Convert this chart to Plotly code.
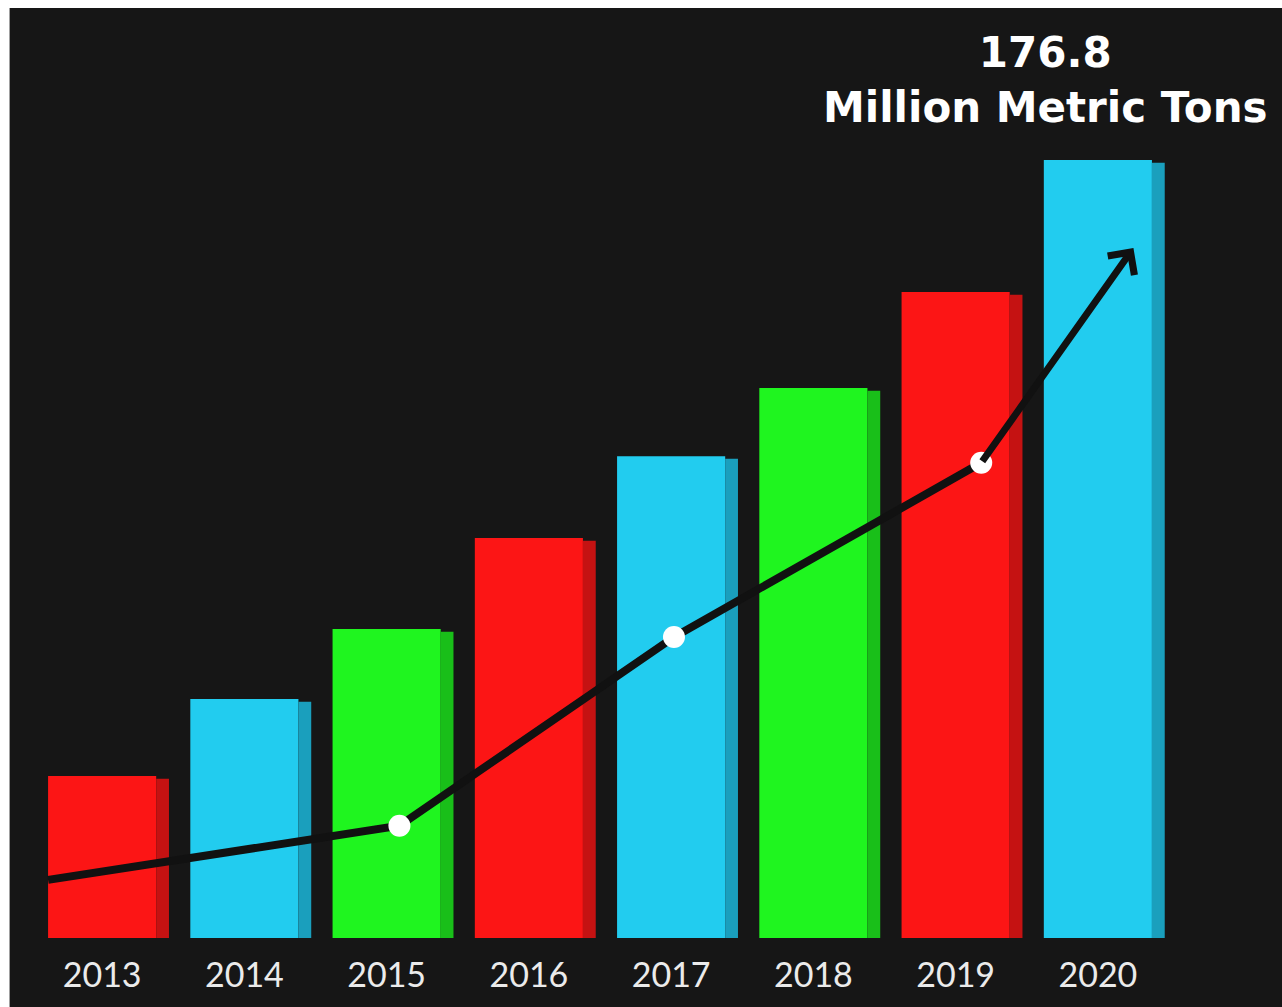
import plotly.graph_objects as go

years = ["2013", "2014", "2015", "2016", "2017", "2018", "2019", "2020"]
volumes = [36.8, 54.3, 70.2, 90.9, 109.5, 125.0, 146.8, 176.8]
front_colors = ["#fc1515", "#22ccef", "#1ff51f", "#fc1515", "#22ccef", "#1ff51f", "#fc1515", "#22ccef"]
side_colors = ["#c51212", "#1a9fbd", "#19bf19", "#c51212", "#1a9fbd", "#19bf19", "#c51212", "#1a9fbd"]

# trend line (x in bar-index units)
trend_x = [-0.38, 2.09, 4.02, 6.18]
trend_y = [13.2, 25.5, 68.4, 108.0]
arrow_tip = (7.25, 156.8)

headline_value = "176.8"
headline_unit = "Million Metric Tons"

idx = list(range(len(years)))
BG = "#161616"

fig = go.Figure()
fig.add_trace(go.Bar(x=idx, y=volumes, width=0.76, offset=-0.38,
                     marker=dict(color=front_colors, line=dict(width=0)),
                     hoverinfo="skip", showlegend=False))
fig.add_trace(go.Bar(x=idx, y=[v - 0.6 for v in volumes], width=0.09, offset=0.38,
                     marker=dict(color=side_colors, line=dict(width=0)),
                     hoverinfo="skip", showlegend=False))
fig.add_trace(go.Scatter(x=trend_x, y=trend_y, mode="lines",
                         line=dict(color="#111111", width=8),
                         hoverinfo="skip", showlegend=False))
fig.add_trace(go.Scatter(x=trend_x[1:], y=trend_y[1:], mode="markers",
                         marker=dict(color="white", size=22, line=dict(width=0)),
                         hoverinfo="skip", showlegend=False))

fig.add_annotation(x=arrow_tip[0], y=arrow_tip[1], ax=trend_x[-1], ay=trend_y[-1],
                   xref="x", yref="y", axref="x", ayref="y", text="",
                   showarrow=True, arrowhead=4, arrowsize=0.9, arrowwidth=7,
                   arrowcolor="#111111", standoff=0, startstandoff=0)

fig.add_annotation(x=6.63, y=0.975, xref="x", yref="paper",
                   text="<b>" + headline_value + "</b><br><b>" + headline_unit + "</b>",
                   showarrow=False, xanchor="center", yanchor="middle",
                   font=dict(family="DejaVu Sans", size=42, color="white"))

# white frame strips at top and left
fig.add_shape(type="rect", xref="paper", yref="paper", x0=-0.05, x1=1.2, y0=1.0 + 50/880, y1=1.2,
              fillcolor="white", line=dict(width=0), layer="above")
fig.add_shape(type="rect", xref="paper", yref="paper", x0=-0.1, x1=-21.4/1137.6, y0=-0.2, y1=1.2,
              fillcolor="white", line=dict(width=0), layer="above")

fig.update_layout(
    width=1282, height=1007,
    margin=dict(l=31, r=113, t=58, b=69),
    paper_bgcolor=BG, plot_bgcolor=BG,
    barmode="overlay",
    xaxis=dict(range=[-0.5, 7.5], tickvals=idx, ticktext=years,
               showgrid=False, zeroline=False, showline=False, ticks="",
               ticklabelstandoff=14,
               tickfont=dict(family="Lato", size=34, color="#ebebeb")),
    yaxis=dict(range=[0, 200], showgrid=False, zeroline=False, showline=False,
               showticklabels=False, ticks=""),
)

fig.write_html("out.html")
